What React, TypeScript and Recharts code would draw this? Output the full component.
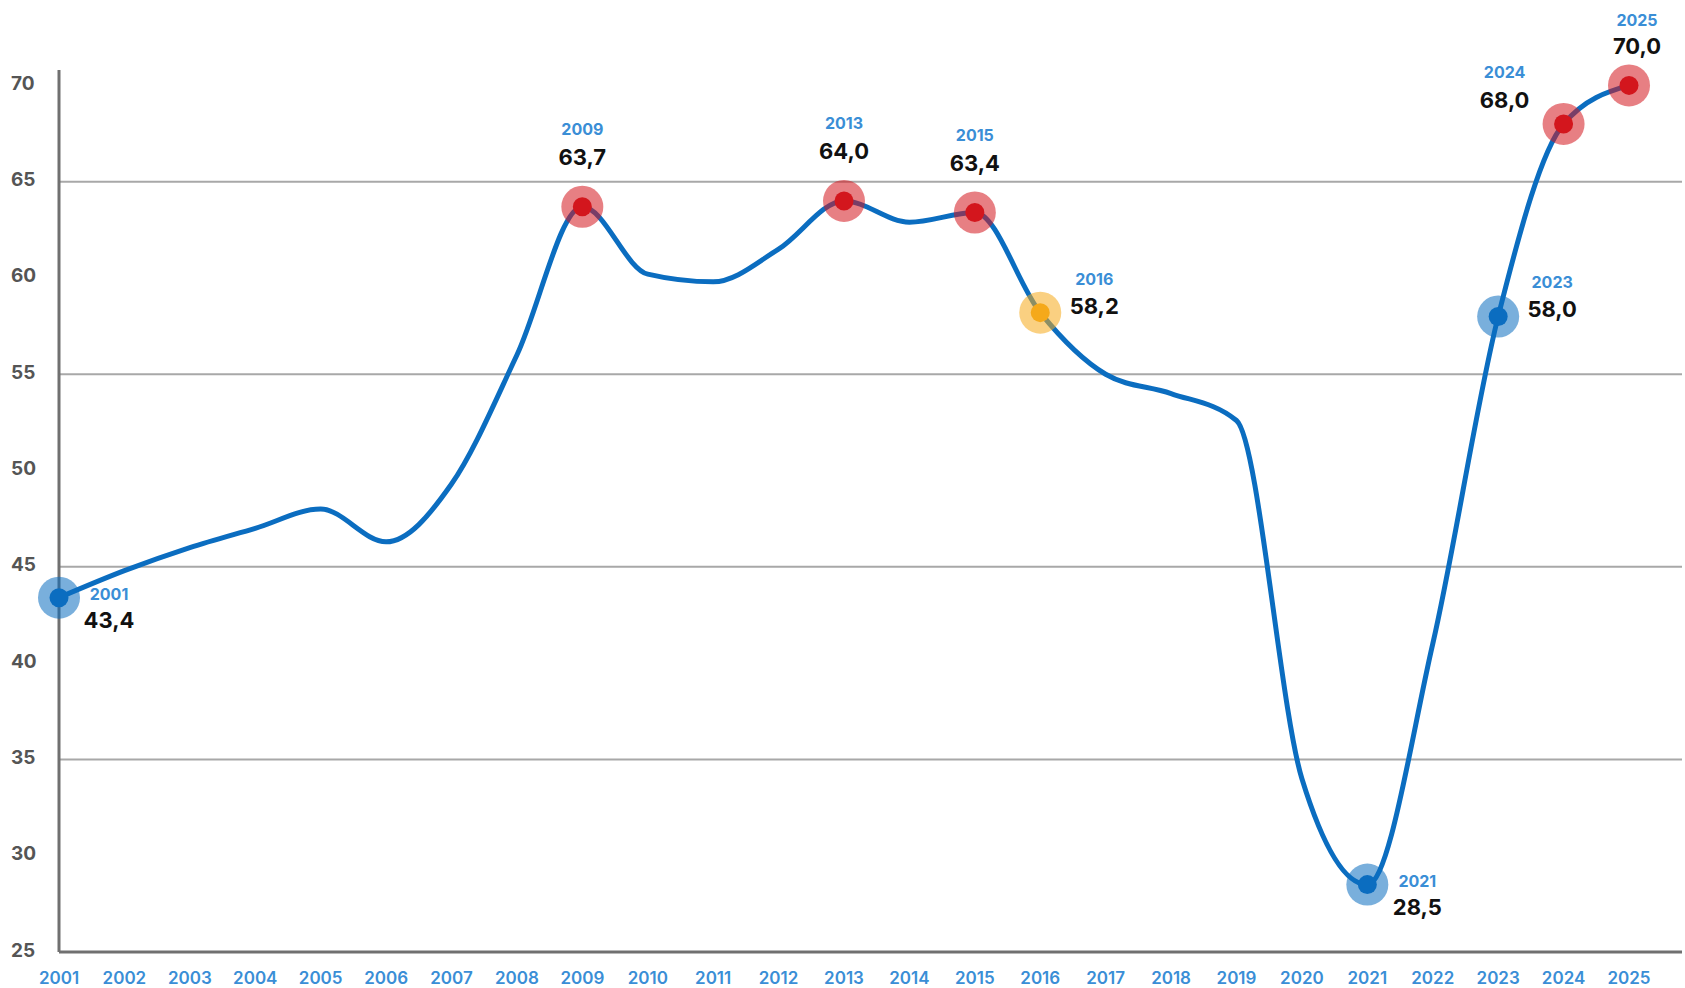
import { LineChart, Line, XAxis, YAxis, ReferenceLine } from 'recharts';

const years = [
  '2001', '2002', '2003', '2004', '2005', '2006', '2007', '2008', '2009', '2010',
  '2011', '2012', '2013', '2014', '2015', '2016', '2017', '2018', '2019', '2020',
  '2021', '2022', '2023', '2024', '2025',
];
const rates = [
  43.4, 44.8, 46.0, 47.0, 48.0, 46.3, 49.3, 56.0, 63.7, 60.2,
  59.8, 61.5, 64.0, 62.9, 63.4, 58.2, 55.0, 54.0, 52.6, 34.0,
  28.5, 41.0, 58.0, 68.0, 70.0,
];
const yTicks = [25, 30, 35, 40, 45, 50, 55, 60, 65, 70];
const gridValues = [35, 45, 55, 65];
const labelledYears = ['2001', '2009', '2013', '2015', '2016', '2021', '2023', '2024', '2025'];

const data = years.map((year, i) => ({ year, rate: rates[i] }));

const BLUE = '#0b6dc0';
const LABEL_BLUE = '#3a8ed6';
const FONT = 'Inter, "Noto Sans", sans-serif';

const tones: Record<string, string> = {
  red: '#d3161d',
  yellow: '#f5a91a',
  blue: '#0b6dc0',
};

const toneByYear: Record<string, string> = {
  '2001': 'blue', '2009': 'red', '2013': 'red', '2015': 'red', '2016': 'yellow',
  '2021': 'blue', '2023': 'blue', '2024': 'red', '2025': 'red',
};

// where the year/value label sits relative to the marker
const placeByYear: Record<string, string> = {
  '2001': 'rightLow', '2009': 'top', '2013': 'top', '2015': 'top', '2016': 'right',
  '2021': 'rightLow', '2023': 'right', '2024': 'topLeft', '2025': 'topEdge',
};

const offsets: Record<string, { dx: number; yearDy: number; valueDy: number }> = {
  top: { dx: 0, yearDy: -78, valueDy: -50 },
  topEdge: { dx: 8, yearDy: -65, valueDy: -39 },
  right: { dx: 54, yearDy: -34, valueDy: -7 },
  rightLow: { dx: 50, yearDy: -4, valueDy: 22 },
  topLeft: { dx: -59, yearDy: -52, valueDy: -24 },
};

const fmt = (v: number) => v.toFixed(1).replace('.', ',');

function Marker(props: any) {
  const { cx, cy, payload, index } = props;
  if (!labelledYears.includes(payload.year)) return <g key={`d-${index}`} />;
  const color = tones[toneByYear[payload.year]];
  const o = offsets[placeByYear[payload.year]];
  return (
    <g key={`d-${index}`}>
      <circle cx={cx} cy={cy} r={21} fill={color} fillOpacity={0.55} />
      <circle cx={cx} cy={cy} r={9.5} fill={color} />
      <text
        x={cx + o.dx}
        y={cy + o.yearDy}
        textAnchor="middle"
        dominantBaseline="central"
        fontFamily={FONT}
        fontSize={16}
        fontWeight={700}
        fill={LABEL_BLUE}
      >
        {payload.year}
      </text>
      <text
        x={cx + o.dx}
        y={cy + o.valueDy}
        textAnchor="middle"
        dominantBaseline="central"
        fontFamily={FONT}
        fontSize={22}
        fontWeight={700}
        fill="#111"
      >
        {fmt(payload.rate)}
      </text>
    </g>
  );
}

function XTick(props: any) {
  const { x, y, payload } = props;
  return (
    <text
      x={x}
      y={y + 26}
      textAnchor="middle"
      dominantBaseline="central"
      fontFamily={FONT}
      fontSize={17}
      fontWeight={600}
      fill={LABEL_BLUE}
    >
      {payload.value}
    </text>
  );
}

function YTick(props: any) {
  const { x, y, payload } = props;
  return (
    <text
      x={x - 48}
      y={y - 2}
      textAnchor="start"
      dominantBaseline="central"
      fontFamily={FONT}
      fontSize={19}
      fontWeight={700}
      fill="#555"
    >
      {payload.value}
    </text>
  );
}

export default function App() {
  return (
    <div style={{ position: 'absolute', left: 0, top: 0, width: 1685, height: 988, background: '#fff' }}>
      <LineChart
        width={1685}
        height={988}
        data={data}
        margin={{ top: 70, right: 3, bottom: 0, left: 0 }}
        style={{ overflow: 'visible' }}
      >
        {gridValues.map((v) => (
          <ReferenceLine key={v} y={v} stroke="#a8a8a8" strokeWidth={2} />
        ))}
        <XAxis
          dataKey="year"
          height={36}
          padding={{ left: 0, right: 53 }}
          interval={0}
          tickLine={false}
          tickSize={0}
          tickMargin={0}
          axisLine={{ stroke: '#707070', strokeWidth: 3 }}
          tick={<XTick />}
        />
        <YAxis
          width={59}
          domain={[25, 70.8]}
          ticks={yTicks}
          interval={0}
          tickLine={false}
          tickSize={0}
          tickMargin={0}
          axisLine={{ stroke: '#707070', strokeWidth: 3 }}
          tick={<YTick />}
        />
        <Line
          type="monotone"
          dataKey="rate"
          stroke={BLUE}
          strokeWidth={5}
          dot={(p: any) => <Marker {...p} />}
          activeDot={false}
          isAnimationActive={false}
        />
      </LineChart>
    </div>
  );
}
